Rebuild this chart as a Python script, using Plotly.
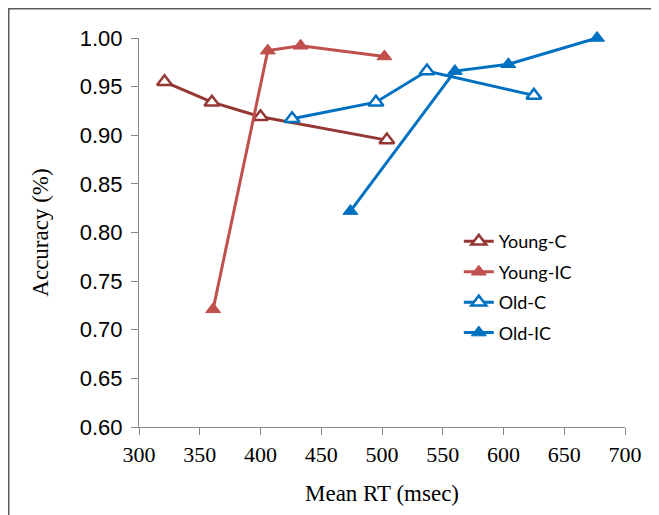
import plotly.graph_objects as go

# Data
young_c_rt = [321, 360, 400, 504]
young_c_acc = [0.955, 0.934, 0.919, 0.895]
young_ic_rt = [361, 406, 433, 502]
young_ic_acc = [0.721, 0.987, 0.992, 0.981]
old_c_rt = [426, 495, 537, 625]
old_c_acc = [0.917, 0.934, 0.966, 0.941]
old_ic_rt = [474, 560, 604, 677]
old_ic_acc = [0.822, 0.966, 0.973, 1.000]

x_ticks = [300, 350, 400, 450, 500, 550, 600, 650, 700]
y_ticks = [0.60, 0.65, 0.70, 0.75, 0.80, 0.85, 0.90, 0.95, 1.00]

DARK_RED = "#953735"
RED = "#C0504D"
BLUE = "#0070C0"

L, R, T, B = 131, 42, 30, 96
W, H = 659, 515
PW, PH = W - L - R, H - T - B

fig = go.Figure()

def add(name, xs, ys, color, open_marker):
    if open_marker:
        marker = dict(symbol="triangle-up", size=13, color="white",
                      line=dict(color=color, width=2.5))
    else:
        marker = dict(symbol="triangle-up", size=13, color=color,
                      line=dict(color=color, width=1))
    fig.add_trace(go.Scatter(x=xs, y=ys, name=name, mode="lines+markers",
                             legendgroup=name, cliponaxis=False,
                             line=dict(color=color, width=3), marker=marker))

add("Young-C", young_c_rt, young_c_acc, DARK_RED, True)
add("Young-IC", young_ic_rt, young_ic_acc, RED, False)
add("Old-C", old_c_rt, old_c_acc, BLUE, True)
add("Old-IC", old_ic_rt, old_ic_acc, BLUE, False)

fig.update_layout(
    width=W, height=H,
    margin=dict(l=L, r=R, t=T, b=B),
    paper_bgcolor="white", plot_bgcolor="white",
    showlegend=True,
    legend=dict(x=0.658, y=0.524, xanchor="left", yanchor="top",
                font=dict(family="Lato", size=18, color="#000000"),
                bgcolor="rgba(0,0,0,0)", tracegroupgap=4, itemwidth=30),
    shapes=[
        dict(type="line", xref="paper", yref="paper", x0=-L / PW, x1=(W - L) / PW,
             y0=1 + (T - 0.5) / PH, y1=1 + (T - 0.5) / PH, line=dict(color="#5a5a5a", width=2)),
        dict(type="line", xref="paper", yref="paper", x0=-(L - 0.5) / PW, x1=-(L - 0.5) / PW,
             y0=1 + T / PH, y1=-B / PH, line=dict(color="#5a5a5a", width=2)),
    ],
)

fig.update_xaxes(
    range=[300, 700], tickvals=x_ticks, ticktext=[str(v) for v in x_ticks],
    showgrid=False, zeroline=False, showline=True, linecolor="#868686", linewidth=1,
    ticks="outside", ticklen=7, tickcolor="#868686",
    tickfont=dict(family="Liberation Serif", size=22, color="#000000"),
    ticklabelstandoff=1,
    title=dict(text="Mean RT (msec)", font=dict(family="Liberation Serif", size=23, color="#000000"),
               standoff=18),
)
fig.update_yaxes(
    range=[0.60, 1.00], tickvals=y_ticks, ticktext=[f"{v:.2f}" for v in y_ticks],
    showgrid=False, zeroline=False, showline=True, linecolor="#868686", linewidth=1,
    ticks="outside", ticklen=7, tickcolor="#868686",
    tickfont=dict(family="Liberation Sans", size=22, color="#000000"),
    ticklabelstandoff=4,
    title=dict(text="Accuracy (%)", font=dict(family="Liberation Serif", size=23, color="#000000"),
               standoff=24),
)

fig.write_html("out.html")
